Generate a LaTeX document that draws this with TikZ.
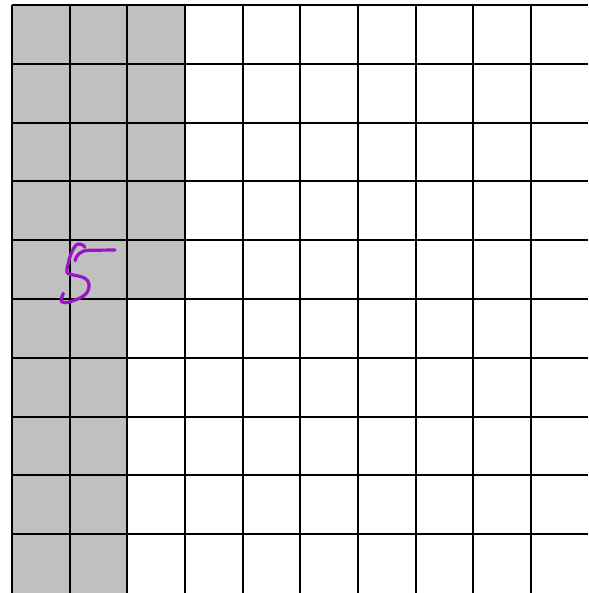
\documentclass[tikz,border=0pt]{standalone}
\definecolor{cellgray}{RGB}{192,192,192}
\definecolor{penpurple}{RGB}{155,20,195}
\tikzset{
  gridline/.style={line width=2pt, black},
  pen/.style={line width=3.2pt, penpurple, line cap=round, line join=round}
}
\begin{document}
\begin{tikzpicture}[x=1pt,y=-1pt]
\useasboundingbox (0,0) rectangle (588,593);
\clip (0,0) rectangle (588,593);
% shaded cells
\fill[cellgray] (12,5) rectangle (185.5,299);
\fill[cellgray] (12,299) rectangle (128,593);
% vertical lines
\foreach \i in {0,...,9} {
  \draw[gridline] ({12+\i*57.68},5) -- ({12+\i*57.68},593);
}
% horizontal lines
\foreach \j in {0,...,9} {
  \draw[gridline] (12,{5+\j*58.8}) -- (588,{5+\j*58.8});
}
% handwritten 5
\draw[pen] (75,260.7) .. controls (76,255) and (81,250.5) .. (88.3,250.3) -- (115,250);
\draw[pen] (85,247.3) .. controls (83,244.5) and (80,243.5) .. (78.3,244)
  .. controls (74,245) and (70,255) .. (68.3,263.3)
  .. controls (67,268) and (66,272) .. (67.7,273.3)
  .. controls (70,275) and (80,275.5) .. (85,278.3)
  .. controls (89,281) and (90,285) .. (88.3,290)
  .. controls (87,294) and (82,298) .. (75,300)
  .. controls (70,302) and (64,304) .. (61.7,301.7)
  .. controls (60.5,300) and (62,296) .. (63.3,293.3);
\end{tikzpicture}
\end{document}
